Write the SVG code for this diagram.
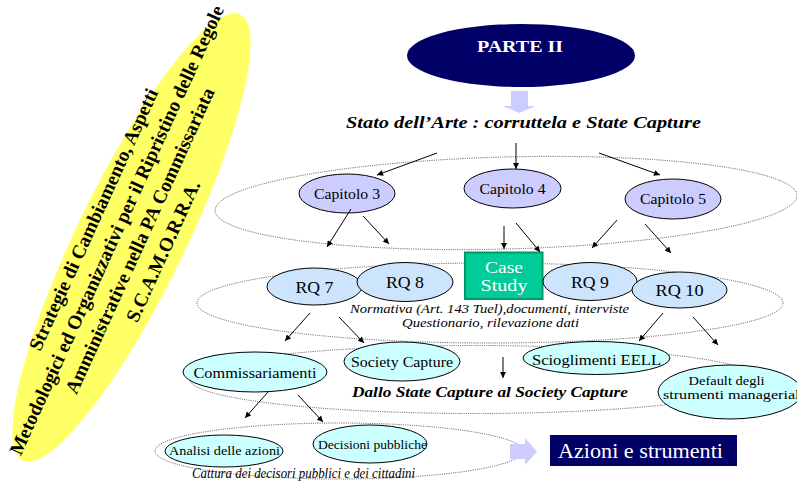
<svg xmlns="http://www.w3.org/2000/svg" width="797" height="490" viewBox="0 0 797 490">
  <defs>
    <marker id="ah" viewBox="0 0 10 10" refX="10" refY="5" markerWidth="7" markerHeight="6" orient="auto" markerUnits="userSpaceOnUse">
      <path d="M0,0 L10,5 L0,10 z" fill="#000"/>
    </marker>
    <style>
      text { font-family: "Liberation Serif", "Times New Roman", serif; fill: #000; }
      .grp { fill: none; stroke: #444; stroke-width: 0.9; stroke-dasharray: 1 1.2; }
      .cap { fill: #ccccff; stroke: #000; stroke-width: 1; }
      .rq { fill: #cce4fc; stroke: #000; stroke-width: 1; }
      .cy { fill: #ccffff; stroke: #000; stroke-width: 1; }
      .navy { fill: #000066; }
      .pale { fill: #ccccff; }
      .conn line { stroke: #000; stroke-width: 1; marker-end: url(#ah); }
      .lbl { text-anchor: middle; }
      .bi { font-weight: bold; font-style: italic; }
      .it { font-style: italic; }
      .wt { fill: #fff; }
    </style>
  </defs>
  <rect width="797" height="490" fill="#fff"/>

  <!-- tilted yellow banner -->
  <g id="banner">
    <ellipse cx="0" cy="0" rx="248" ry="54" fill="#ffff66" transform="translate(131.5,237.5) rotate(-64)"/>
    <g font-weight="bold" font-size="19.4" text-anchor="middle" transform="translate(133,237.5) rotate(-65.5)">
      <text x="0" y="-37">Strategie di Cambiamento,  Aspetti</text>
      <text x="0" y="-11.5">Metodologici ed Organizzativi per il Ripristino delle Regole</text>
      <text x="0" y="14">Amministrative  nella PA Commissariata</text>
      <text x="0" y="39.5">S.C.A.M.O.R.R.A.</text>
    </g>
  </g>

  <!-- dotted grouping rings -->
  <g id="rings">
    <ellipse class="grp" cx="506" cy="203" rx="291" ry="46" transform="rotate(-1.5 506 203)"/>
    <ellipse class="grp" cx="490" cy="303" rx="293" ry="40"/>
    <ellipse class="grp" cx="475" cy="379.5" rx="285" ry="34"/>
    <ellipse class="grp" cx="339" cy="451" rx="184" ry="28"/>
  </g>

  <!-- header -->
  <g id="parte2">
    <ellipse class="navy" cx="521" cy="55.5" rx="114" ry="31.5"/>
    <text class="lbl wt" x="520" y="52" font-size="16.5" font-weight="bold" textLength="86" lengthAdjust="spacingAndGlyphs">PARTE II</text>
  </g>
  <polygon id="down-arrow" class="pale" points="511,91 528,91 528,106 535,106 519.5,113 503,106 511,106"/>
  <text id="title" class="lbl bi" x="523.5" y="128" font-size="16.5" textLength="355" lengthAdjust="spacingAndGlyphs">Stato dell’Arte : corruttela e State Capture</text>

  <!-- chapters -->
  <g id="cap3">
    <ellipse class="cap" cx="347" cy="193.5" rx="48" ry="19.5"/>
    <text class="lbl" x="347" y="198.5" font-size="15" textLength="66" lengthAdjust="spacingAndGlyphs">Capitolo 3</text>
  </g>
  <g id="cap4">
    <ellipse class="cap" cx="512.5" cy="188.5" rx="48.5" ry="19.5"/>
    <text class="lbl" x="512.5" y="194" font-size="15" textLength="66" lengthAdjust="spacingAndGlyphs">Capitolo 4</text>
  </g>
  <g id="cap5">
    <ellipse class="cap" cx="673" cy="199" rx="48" ry="20"/>
    <text class="lbl" x="673" y="204" font-size="15" textLength="66" lengthAdjust="spacingAndGlyphs">Capitolo 5</text>
  </g>

  <!-- research questions -->
  <g id="rq7">
    <ellipse class="rq" cx="314.5" cy="286.5" rx="47.5" ry="18.5"/>
    <text class="lbl" x="314.5" y="293" font-size="16.5" textLength="38" lengthAdjust="spacingAndGlyphs">RQ 7</text>
  </g>
  <g id="rq8">
    <ellipse class="rq" cx="405" cy="282" rx="48" ry="19.5"/>
    <text class="lbl" x="405" y="288" font-size="16.5" textLength="38" lengthAdjust="spacingAndGlyphs">RQ 8</text>
  </g>
  <g id="case-study">
    <rect x="465" y="252.5" width="77.5" height="46.5" fill="#00cc99" stroke="#009966" stroke-width="2"/>
    <text class="lbl wt" x="504" y="272.5" font-size="17.5" textLength="38" lengthAdjust="spacingAndGlyphs">Case</text>
    <text class="lbl wt" x="504" y="291" font-size="17.5" textLength="47" lengthAdjust="spacingAndGlyphs">Study</text>
  </g>
  <g id="rq9">
    <ellipse class="rq" cx="590" cy="281.5" rx="47" ry="19"/>
    <text class="lbl" x="590" y="288" font-size="16.5" textLength="38" lengthAdjust="spacingAndGlyphs">RQ 9</text>
  </g>
  <g id="rq10">
    <ellipse class="rq" cx="679.5" cy="290" rx="47.5" ry="18"/>
    <text class="lbl" x="679.5" y="296" font-size="16.5" textLength="48" lengthAdjust="spacingAndGlyphs">RQ 10</text>
  </g>
  <g id="sources">
    <text class="lbl it" x="489.5" y="312.5" font-size="12.5" textLength="279" lengthAdjust="spacingAndGlyphs">Normativa (Art.  143 Tuel),documenti, interviste</text>
    <text class="lbl it" x="490.5" y="326.5" font-size="12.5" textLength="177" lengthAdjust="spacingAndGlyphs">Questionario, rilevazione  dati</text>
  </g>

  <!-- capture outcomes -->
  <g id="commissariamenti">
    <ellipse class="cy" cx="255" cy="372" rx="72" ry="20"/>
    <text class="lbl" x="255" y="377.5" font-size="15" textLength="123" lengthAdjust="spacingAndGlyphs">Commissariamenti</text>
  </g>
  <g id="society-capture">
    <ellipse class="cy" cx="402" cy="361.5" rx="58" ry="19.5"/>
    <text class="lbl" x="402" y="366.5" font-size="15" textLength="102" lengthAdjust="spacingAndGlyphs">Society Capture</text>
  </g>
  <g id="scioglimenti">
    <ellipse class="cy" cx="596.5" cy="358" rx="73.5" ry="16.5"/>
    <text class="lbl" x="596.5" y="365" font-size="15.5" textLength="129" lengthAdjust="spacingAndGlyphs">Scioglimenti EELL</text>
  </g>
  <g id="default">
    <ellipse class="cy" cx="730" cy="392" rx="72" ry="27"/>
    <text class="lbl" x="726.5" y="385" font-size="13.5" textLength="76" lengthAdjust="spacingAndGlyphs">Default degli</text>
    <text x="663" y="398.5" font-size="13.5" textLength="141" lengthAdjust="spacingAndGlyphs">strumenti manageriali</text>
  </g>
  <text id="society-note" class="bi" x="352" y="397" font-size="15" textLength="276" lengthAdjust="spacingAndGlyphs">Dallo  State Capture al Society Capture</text>

  <!-- actions -->
  <g id="analisi">
    <ellipse class="cy" cx="224" cy="451" rx="59" ry="16"/>
    <text class="lbl" x="224.5" y="455" font-size="13" textLength="111" lengthAdjust="spacingAndGlyphs">Analisi delle azioni</text>
  </g>
  <g id="decisioni">
    <ellipse class="cy" cx="370" cy="444" rx="57" ry="19"/>
    <text x="318" y="448.5" font-size="13" textLength="109" lengthAdjust="spacingAndGlyphs">Decisioni pubbliche</text>
  </g>
  <text id="cattura" class="it" x="192" y="478" font-size="14" textLength="223" lengthAdjust="spacingAndGlyphs">Cattura  dei decisori pubblici e dei cittadini</text>
  <polygon id="right-arrow" class="pale" points="510,444 525,444 525,438 537,451.5 525,465 525,459 510,459"/>
  <g id="azioni">
    <rect class="navy" x="550" y="435" width="187" height="31"/>
    <text class="wt" x="558" y="457.5" font-size="20.5" textLength="165" lengthAdjust="spacingAndGlyphs">Azioni e strumenti</text>
  </g>

  <!-- connectors -->
  <g class="conn" id="connectors">
    <line x1="437" y1="153" x2="377" y2="175"/>
    <line x1="516" y1="143" x2="516" y2="169"/>
    <line x1="599" y1="153" x2="660" y2="175"/>
    <line x1="351" y1="209" x2="327" y2="247"/>
    <line x1="363" y1="216" x2="389" y2="244"/>
    <line x1="504" y1="226" x2="504" y2="249"/>
    <line x1="516" y1="223" x2="540" y2="252"/>
    <line x1="617" y1="220" x2="592" y2="248"/>
    <line x1="645" y1="224" x2="671" y2="253"/>
    <line x1="310" y1="313" x2="285" y2="341"/>
    <line x1="339" y1="317" x2="364" y2="343"/>
    <line x1="663" y1="313" x2="639" y2="341"/>
    <line x1="693" y1="317" x2="718" y2="345"/>
    <line x1="503" y1="357" x2="503" y2="378"/>
    <line x1="268" y1="392" x2="245" y2="418"/>
    <line x1="298" y1="395" x2="323" y2="422"/>
  </g>
</svg>
